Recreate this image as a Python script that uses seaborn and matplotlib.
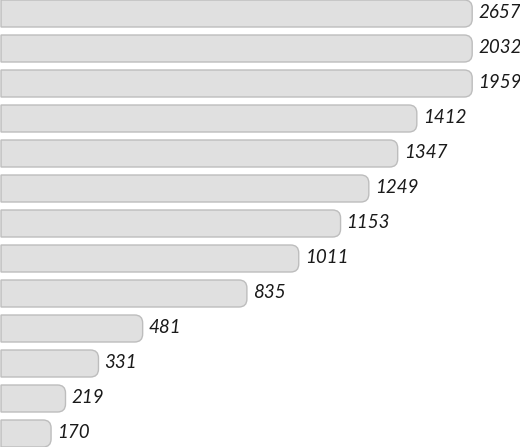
import numpy as np
import pandas as pd
import matplotlib
matplotlib.use('Agg')
import matplotlib.pyplot as plt
import seaborn as sns
from matplotlib.path import Path
from matplotlib.patches import PathPatch

# values per row, top to bottom (the longest bars are cut at a fixed length)
counts = [2657, 2032, 1959, 1412, 1347, 1249, 1153, 1011, 835, 481, 331, 219, 170]
rows = ['r%02d' % i for i in range(len(counts))]
bar_cap = 1600

df = pd.DataFrame({'row': rows, 'count': counts})
df['shown'] = np.minimum(df['count'], bar_cap)

W, H = 520, 447
fig = plt.figure(figsize=(W / 100, H / 100), dpi=100)
ax = fig.add_axes([0, 0, 1, 1])
sns.barplot(data=df, y='row', x='shown', orient='h', width=27 / 35,
            color='#e0e0e0', ax=ax)

px_per_unit = 0.2945
x_left = -1 / px_per_unit
ax.set_xlim(x_left, x_left + W / px_per_unit)
ax.set_ylim(len(counts) - 1 + 13.5 / 35, -13.5 / 35)
ax.axis('off')

# swap the plain bars for ones with rounded right ends
rx = 8 / px_per_unit
ry = 8 / 35
for p in list(ax.patches):
    x0, y0 = p.get_x(), p.get_y()
    x1, y1 = x0 + p.get_width(), y0 + p.get_height()
    verts = [(x0, y0), (x1 - rx, y0), (x1, y0), (x1, y0 + ry),
             (x1, y1 - ry), (x1, y1), (x1 - rx, y1), (x0, y1), (x0, y0)]
    codes = [Path.MOVETO, Path.LINETO, Path.CURVE3, Path.CURVE3,
             Path.LINETO, Path.CURVE3, Path.CURVE3, Path.LINETO, Path.CLOSEPOLY]
    ax.add_patch(PathPatch(Path(verts, codes), facecolor='#e0e0e0',
                           edgecolor='#bdbdbd', linewidth=1.0))
    p.set_visible(False)

for i, (v, s) in enumerate(zip(df['count'], df['shown'])):
    ax.text(s + 6 / px_per_unit, i - 0.03, str(v), va='center', ha='left',
            fontstyle='italic', family=['Lato', 'DejaVu Sans'],
            fontsize=13.5, color='#1a1a1a')

fig.savefig('out.png', dpi=100)
